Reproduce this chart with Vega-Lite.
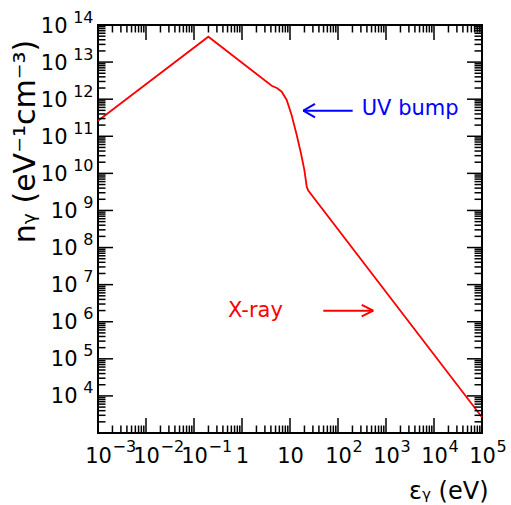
{
  "$schema": "https://vega.github.io/schema/vega-lite/v6.json",
  "width": 384,
  "height": 408,
  "autosize": {"type": "none"},
  "padding": {"left": 98, "top": 25, "right": 29, "bottom": 72},
  "background": "white",
  "config": {
    "view": {"stroke": "black", "strokeWidth": 2},
    "axis": {"domain": false, "grid": false, "labelFont": "DejaVu Sans", "titleFont": "DejaVu Sans", "labelColor": "black", "titleColor": "black", "labelOverlap": false, "labelFlush": false, "titleFontWeight": "normal"},
    "text": {"font": "DejaVu Sans"}
  },
  "resolve": {"axis": {"x": "independent", "y": "independent"}},
  "datasets": {
    "curve": [
      {"e": 0.001, "n": 2.63e11},
      {"e": 0.199, "n": 4.84e13},
      {"e": 4.16, "n": 2.31e12},
      {"e": 5.43, "n": 1.97e12},
      {"e": 6.72, "n": 1.59e12},
      {"e": 8.53, "n": 9.51e11},
      {"e": 10.8, "n": 3.75e11},
      {"e": 13.8, "n": 1.08e11},
      {"e": 16.9, "n": 3.48e10},
      {"e": 19.9, "n": 1.24e10},
      {"e": 22.3, "n": 4.38e9},
      {"e": 24.0, "n": 3.42e9},
      {"e": 100000, "n": 2670}
    ],
    "uvArrow": [
      {"e": 18.9, "n": 4.9e11, "part": "shaft"},
      {"e": 202, "n": 4.9e11, "part": "shaft"},
      {"e": 18.9, "n": 4.9e11, "part": "head1"},
      {"e": 33.2, "n": 7.43e11, "part": "head1"},
      {"e": 18.9, "n": 4.9e11, "part": "head2"},
      {"e": 33.2, "n": 3.25e11, "part": "head2"}
    ],
    "xrayArrow": [
      {"e": 49.4, "n": 1.99e6, "part": "shaft"},
      {"e": 543, "n": 1.99e6, "part": "shaft"},
      {"e": 312, "n": 2.84e6, "part": "head1"},
      {"e": 543, "n": 1.99e6, "part": "head1"},
      {"e": 312, "n": 1.40e6, "part": "head2"},
      {"e": 543, "n": 1.99e6, "part": "head2"}
    ],
    "uvText": [{"e": 312, "n": 3.75e11, "label": "UV bump"}],
    "xrayText": [{"e": 0.51, "n": 1.37e6, "label": "X-ray"}],
    "xMajor": [{"v": 0.001}, {"v": 0.01}, {"v": 0.1}, {"v": 1}, {"v": 10}, {"v": 100}, {"v": 1000}, {"v": 10000}, {"v": 100000}],
    "xMinor": [
      {"v": 0.002}, {"v": 0.003}, {"v": 0.004}, {"v": 0.005}, {"v": 0.006}, {"v": 0.007}, {"v": 0.008}, {"v": 0.009},
      {"v": 0.02}, {"v": 0.03}, {"v": 0.04}, {"v": 0.05}, {"v": 0.06}, {"v": 0.07}, {"v": 0.08}, {"v": 0.09},
      {"v": 0.2}, {"v": 0.3}, {"v": 0.4}, {"v": 0.5}, {"v": 0.6}, {"v": 0.7}, {"v": 0.8}, {"v": 0.9},
      {"v": 2}, {"v": 3}, {"v": 4}, {"v": 5}, {"v": 6}, {"v": 7}, {"v": 8}, {"v": 9},
      {"v": 20}, {"v": 30}, {"v": 40}, {"v": 50}, {"v": 60}, {"v": 70}, {"v": 80}, {"v": 90},
      {"v": 200}, {"v": 300}, {"v": 400}, {"v": 500}, {"v": 600}, {"v": 700}, {"v": 800}, {"v": 900},
      {"v": 2000}, {"v": 3000}, {"v": 4000}, {"v": 5000}, {"v": 6000}, {"v": 7000}, {"v": 8000}, {"v": 9000},
      {"v": 20000}, {"v": 30000}, {"v": 40000}, {"v": 50000}, {"v": 60000}, {"v": 70000}, {"v": 80000}, {"v": 90000}
    ],
    "yMajor": [{"v": 1e3}, {"v": 1e4}, {"v": 1e5}, {"v": 1e6}, {"v": 1e7}, {"v": 1e8}, {"v": 1e9}, {"v": 1e10}, {"v": 1e11}, {"v": 1e12}, {"v": 1e13}, {"v": 1e14}],
    "yMinor": [
      {"v": 2e3}, {"v": 3e3}, {"v": 4e3}, {"v": 5e3}, {"v": 6e3}, {"v": 7e3}, {"v": 8e3}, {"v": 9e3},
      {"v": 2e4}, {"v": 3e4}, {"v": 4e4}, {"v": 5e4}, {"v": 6e4}, {"v": 7e4}, {"v": 8e4}, {"v": 9e4},
      {"v": 2e5}, {"v": 3e5}, {"v": 4e5}, {"v": 5e5}, {"v": 6e5}, {"v": 7e5}, {"v": 8e5}, {"v": 9e5},
      {"v": 2e6}, {"v": 3e6}, {"v": 4e6}, {"v": 5e6}, {"v": 6e6}, {"v": 7e6}, {"v": 8e6}, {"v": 9e6},
      {"v": 2e7}, {"v": 3e7}, {"v": 4e7}, {"v": 5e7}, {"v": 6e7}, {"v": 7e7}, {"v": 8e7}, {"v": 9e7},
      {"v": 2e8}, {"v": 3e8}, {"v": 4e8}, {"v": 5e8}, {"v": 6e8}, {"v": 7e8}, {"v": 8e8}, {"v": 9e8},
      {"v": 2e9}, {"v": 3e9}, {"v": 4e9}, {"v": 5e9}, {"v": 6e9}, {"v": 7e9}, {"v": 8e9}, {"v": 9e9},
      {"v": 2e10}, {"v": 3e10}, {"v": 4e10}, {"v": 5e10}, {"v": 6e10}, {"v": 7e10}, {"v": 8e10}, {"v": 9e10},
      {"v": 2e11}, {"v": 3e11}, {"v": 4e11}, {"v": 5e11}, {"v": 6e11}, {"v": 7e11}, {"v": 8e11}, {"v": 9e11},
      {"v": 2e12}, {"v": 3e12}, {"v": 4e12}, {"v": 5e12}, {"v": 6e12}, {"v": 7e12}, {"v": 8e12}, {"v": 9e12},
      {"v": 2e13}, {"v": 3e13}, {"v": 4e13}, {"v": 5e13}, {"v": 6e13}, {"v": 7e13}, {"v": 8e13}, {"v": 9e13}
    ]
  },
  "layer": [
    {
      "data": {"name": "curve"},
      "mark": {"type": "line", "color": "#ff0000", "strokeWidth": 1.8},
      "encoding": {
        "x": {"field": "e", "type": "quantitative", "scale": {"type": "log", "domain": [0.001, 100000], "nice": false}, "axis": null},
        "y": {"field": "n", "type": "quantitative", "scale": {"type": "log", "domain": [1000, 1e14], "nice": false}, "axis": null}
      }
    },
    {
      "data": {"name": "xMajor"},
      "mark": {"type": "rule", "color": "black", "strokeWidth": 1.5, "opacity": 1},
      "encoding": {
        "x": {"field": "v", "type": "quantitative", "axis": null},
        "y": {"datum": 1000, "type": "quantitative", "axis": null},
        "y2": {"datum": 2537}
      }
    },
    {
      "data": {"name": "xMinor"},
      "mark": {"type": "rule", "color": "black", "strokeWidth": 1.5, "opacity": 1},
      "encoding": {
        "x": {"field": "v", "type": "quantitative", "axis": null},
        "y": {"datum": 1000, "type": "quantitative", "axis": null},
        "y2": {"datum": 1592}
      }
    },
    {
      "data": {"name": "xMajor"},
      "mark": {"type": "rule", "color": "black", "strokeWidth": 1.5, "opacity": 1},
      "encoding": {
        "x": {"field": "v", "type": "quantitative", "axis": null},
        "y": {"datum": 1e14, "type": "quantitative", "axis": null},
        "y2": {"datum": 3.94e13}
      }
    },
    {
      "data": {"name": "xMinor"},
      "mark": {"type": "rule", "color": "black", "strokeWidth": 1.5, "opacity": 1},
      "encoding": {
        "x": {"field": "v", "type": "quantitative", "axis": null},
        "y": {"datum": 1e14, "type": "quantitative", "axis": null},
        "y2": {"datum": 6.28e13}
      }
    },
    {
      "data": {"name": "yMajor"},
      "mark": {"type": "rule", "color": "black", "strokeWidth": 1.5, "opacity": 1},
      "encoding": {
        "x": {"datum": 0.001, "type": "quantitative", "axis": null},
        "x2": {"datum": 0.002054},
        "y": {"field": "v", "type": "quantitative", "axis": null}
      }
    },
    {
      "data": {"name": "yMinor"},
      "mark": {"type": "rule", "color": "black", "strokeWidth": 1.5, "opacity": 1},
      "encoding": {
        "x": {"datum": 0.001, "type": "quantitative", "axis": null},
        "x2": {"datum": 0.001434},
        "y": {"field": "v", "type": "quantitative", "axis": null}
      }
    },
    {
      "data": {"name": "yMajor"},
      "mark": {"type": "rule", "color": "black", "strokeWidth": 1.5, "opacity": 1},
      "encoding": {
        "x": {"datum": 100000, "type": "quantitative", "axis": null},
        "x2": {"datum": 48697},
        "y": {"field": "v", "type": "quantitative", "axis": null}
      }
    },
    {
      "data": {"name": "yMinor"},
      "mark": {"type": "rule", "color": "black", "strokeWidth": 1.5, "opacity": 1},
      "encoding": {
        "x": {"datum": 100000, "type": "quantitative", "axis": null},
        "x2": {"datum": 69783},
        "y": {"field": "v", "type": "quantitative", "axis": null}
      }
    },
    {
      "data": {"name": "uvArrow"},
      "mark": {"type": "line", "color": "#0000ff", "strokeWidth": 2},
      "encoding": {
        "x": {"field": "e", "type": "quantitative", "axis": null},
        "y": {"field": "n", "type": "quantitative", "axis": null},
        "detail": {"field": "part", "type": "nominal"}
      }
    },
    {
      "data": {"name": "xrayArrow"},
      "mark": {"type": "line", "color": "#ff0000", "strokeWidth": 2},
      "encoding": {
        "x": {"field": "e", "type": "quantitative", "axis": null},
        "y": {"field": "n", "type": "quantitative", "axis": null},
        "detail": {"field": "part", "type": "nominal"}
      }
    },
    {
      "data": {"name": "uvText"},
      "mark": {"type": "text", "color": "#0000ff", "fontSize": 21, "align": "left", "baseline": "alphabetic"},
      "encoding": {
        "x": {"field": "e", "type": "quantitative", "axis": null},
        "y": {"field": "n", "type": "quantitative", "axis": null},
        "text": {"field": "label", "type": "nominal"}
      }
    },
    {
      "data": {"name": "xrayText"},
      "mark": {"type": "text", "color": "#ff0000", "fontSize": 21, "align": "left", "baseline": "alphabetic"},
      "encoding": {
        "x": {"field": "e", "type": "quantitative",
              "axis": {"orient": "bottom", "values": [0.001, 0.01, 0.1, 1, 10, 100, 1000, 10000, 100000], "ticks": false,
                       "labelExpr": "round(log(datum.value)/LN10) == 0 ? '1' : '10'", "labelFontSize": 21, "labelAlign": "center", "labelBaseline": "alphabetic", "labelPadding": 29,
                       "title": "εᵧ (eV)", "titleFontSize": 24, "titleX": 390, "titleY": 65, "titleAlign": "right", "titleBaseline": "alphabetic", "titleAngle": 0}},
        "y": {"field": "n", "type": "quantitative",
              "axis": {"orient": "left", "values": [1e4, 1e5, 1e6, 1e7, 1e8, 1e9], "ticks": false,
                       "labelExpr": "'10'", "labelFontSize": 21, "labelAlign": "right", "labelBaseline": "middle", "labelPadding": 21, "labelOffset": 1, "title": null}},
        "text": {"field": "label", "type": "nominal"}
      }
    },
    {
      "data": {"name": "curve"},
      "mark": {"type": "line", "opacity": 0},
      "encoding": {
        "x": {"field": "e", "type": "quantitative",
              "axis": {"orient": "bottom", "values": [0.001, 0.01, 0.1, 1, 10, 100, 1000, 10000, 100000], "ticks": false,
                       "labelExpr": "(round(log(datum.value)/LN10) == 0 || round(log(datum.value)/LN10) == 1) ? '' : (datum.value < 1 ? '−' + (-round(log(datum.value)/LN10)) : '' + round(log(datum.value)/LN10))",
                       "labelFontSize": 16, "labelAlign": "left", "labelBaseline": "alphabetic", "labelPadding": 18, "labelOffset": 14, "title": null}},
        "y": {"field": "n", "type": "quantitative",
              "axis": {"orient": "left", "values": [1e10, 1e11, 1e12, 1e13, 1e14], "ticks": false,
                       "labelExpr": "'10'", "labelFontSize": 21, "labelAlign": "right", "labelBaseline": "middle", "labelPadding": 31, "labelOffset": 1, "title": null}}
      }
    },
    {
      "data": {"name": "curve"},
      "mark": {"type": "line", "opacity": 0},
      "encoding": {
        "x": {"field": "e", "type": "quantitative", "axis": null},
        "y": {"field": "n", "type": "quantitative",
              "axis": {"orient": "left", "values": [1e4, 1e5, 1e6, 1e7, 1e8, 1e9, 1e10, 1e11, 1e12, 1e13, 1e14], "ticks": false,
                       "labelExpr": "'' + round(log(datum.value)/LN10)", "labelFontSize": 16, "labelAlign": "right", "labelBaseline": "alphabetic", "labelPadding": 5, "labelOffset": -3,
                       "title": "nᵧ (eV⁻¹cm⁻³)", "titleFontSize": 30, "titleAngle": -90, "titleX": -64, "titleY": 116, "titleAlign": "center", "titleBaseline": "alphabetic"}}
      }
    }
  ]
}
